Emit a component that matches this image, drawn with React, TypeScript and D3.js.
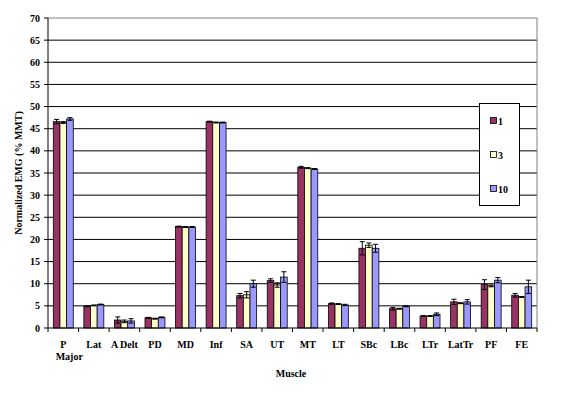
import React from 'react';
import * as d3 from 'd3';

const muscles = ['P Major', 'Lat', 'A Delt', 'PD', 'MD', 'Inf', 'SA', 'UT', 'MT', 'LT', 'SBc', 'LBc', 'LTr', 'LatTr', 'PF', 'FE'];
const seriesNames = ['1', '3', '10'];
const seriesColors = ['#993366', '#FFFFCC', '#9999FF'];

const s1 = [46.6, 4.9, 1.8, 2.3, 22.9, 46.6, 7.3, 10.7, 36.3, 5.5, 18.0, 4.35, 2.7, 5.9, 9.8, 7.4];
const s3 = [46.4, 5.1, 1.5, 2.1, 22.8, 46.4, 7.5, 9.7, 36.1, 5.4, 18.7, 4.35, 2.7, 5.6, 9.5, 7.0];
const s10 = [47.2, 5.3, 1.6, 2.4, 22.8, 46.4, 10.0, 11.5, 35.9, 5.2, 18.0, 4.9, 3.1, 5.9, 10.8, 9.3];

const e1 = [0.5, 0.1, 0.7, 0.1, 0.1, 0.1, 0.5, 0.4, 0.2, 0.15, 1.5, 0.3, 0.1, 0.6, 1.1, 0.4];
const e3 = [0.2, 0.1, 0.3, 0.1, 0.1, 0.1, 0.7, 0.5, 0.1, 0.1, 0.5, 0.1, 0.1, 0.1, 0.2, 0.1];
const e10 = [0.3, 0.1, 0.5, 0.1, 0.1, 0.1, 0.8, 1.2, 0.1, 0.15, 0.9, 0.1, 0.3, 0.5, 0.6, 1.5];

const yTicks = [0, 5, 10, 15, 20, 25, 30, 35, 40, 45, 50, 55, 60, 65, 70];

const App = () => {
  const width = 576;
  const height = 393;
  const left = 48;
  const right = 537;
  const top = 18;
  const bottom = 328;
  const font = "'Liberation Serif', 'Times New Roman', serif";

  const values = [s1, s3, s10];
  const errors = [e1, e3, e10];

  const y = d3.scaleLinear().domain([0, 70]).range([bottom, top]);
  const x = d3.scaleBand().domain(muscles).range([left, right]).paddingInner(0.347).paddingOuter(0.1735);
  const xs = d3.scaleBand().domain(seriesNames).range([0, x.bandwidth()]);
  const step = x.step();

  return (
    <svg width={width} height={height} style={{ position: 'absolute', left: 0, top: 0, background: '#fff' }}
      fontFamily={font} fontWeight="bold">
      {/* grid */}
      {yTicks.filter(t => t > 0 && t < 70).map(t => (
        <line key={t} x1={left} x2={right} y1={y(t)} y2={y(t)} stroke="#000" strokeWidth={1} />
      ))}
      <line x1={left} x2={right} y1={top} y2={top} stroke="#808080" />
      <line x1={right} x2={right} y1={top} y2={bottom} stroke="#808080" />

      {/* bars */}
      {muscles.map((m, i) => (
        <g key={m} transform={`translate(${x(m)},0)`}>
          {seriesNames.map((s, j) => {
            const v = values[j][i];
            const e = errors[j][i];
            const bx = xs(s) as number;
            const cx = bx + xs.bandwidth() / 2;
            return (
              <g key={s}>
                <rect x={bx} y={y(v)} width={xs.bandwidth()} height={bottom - y(v)}
                  fill={seriesColors[j]} stroke="#000" strokeWidth={0.8} />
                <line x1={cx} x2={cx} y1={y(v + e)} y2={y(v - e)} stroke="#000" strokeWidth={1} />
                <line x1={cx - 2.5} x2={cx + 2.5} y1={y(v + e)} y2={y(v + e)} stroke="#000" strokeWidth={1} />
                <line x1={cx - 2.5} x2={cx + 2.5} y1={y(v - e)} y2={y(v - e)} stroke="#000" strokeWidth={1} />
              </g>
            );
          })}
        </g>
      ))}

      {/* axes */}
      <line x1={left} x2={left} y1={top} y2={bottom} stroke="#000" />
      <line x1={left} x2={right} y1={bottom} y2={bottom} stroke="#000" />
      {yTicks.map(t => (
        <g key={t}>
          <line x1={left - 4} x2={left} y1={y(t)} y2={y(t)} stroke="#000" />
          <text x={left - 8} y={y(t)} dy="0.35em" textAnchor="end" fontSize={10}>{t}</text>
        </g>
      ))}
      {d3.range(muscles.length + 1).map(k => (
        <line key={k} x1={left + k * step} x2={left + k * step} y1={bottom} y2={bottom + 4} stroke="#000" />
      ))}
      {muscles.map(m => {
        const cx = (x(m) as number) + x.bandwidth() / 2;
        const parts = m === 'P Major' ? ['P', 'Major'] : [m];
        return (
          <text key={m} x={cx} y={348} textAnchor="middle" fontSize={10}>
            {parts.map((p, k) => (
              <tspan key={k} x={k === 1 ? cx + 6 : cx} dy={k === 0 ? 0 : 12}>{p}</tspan>
            ))}
          </text>
        );
      })}

      {/* titles */}
      <text x={291} y={377} textAnchor="middle" fontSize={10}>Muscle</text>
      <text transform={`translate(22,${(top + bottom) / 2}) rotate(-90)`} textAnchor="middle" fontSize={10}>
        Normalized EMG (% MMT)
      </text>

      {/* legend */}
      <rect x={479.5} y={103.5} width={40} height={102} fill="#fff" stroke="#000" />
      {seriesNames.map((s, j) => (
        <g key={s} transform={`translate(0,${121 + j * 34})`}>
          <rect x={490.5} y={-3.5} width={6} height={6} fill={seriesColors[j]} stroke="#000" strokeWidth={0.8} />
          <text x={498} y={0} dy="0.35em" fontSize={10}>{s}</text>
        </g>
      ))}
    </svg>
  );
};

export default App;
